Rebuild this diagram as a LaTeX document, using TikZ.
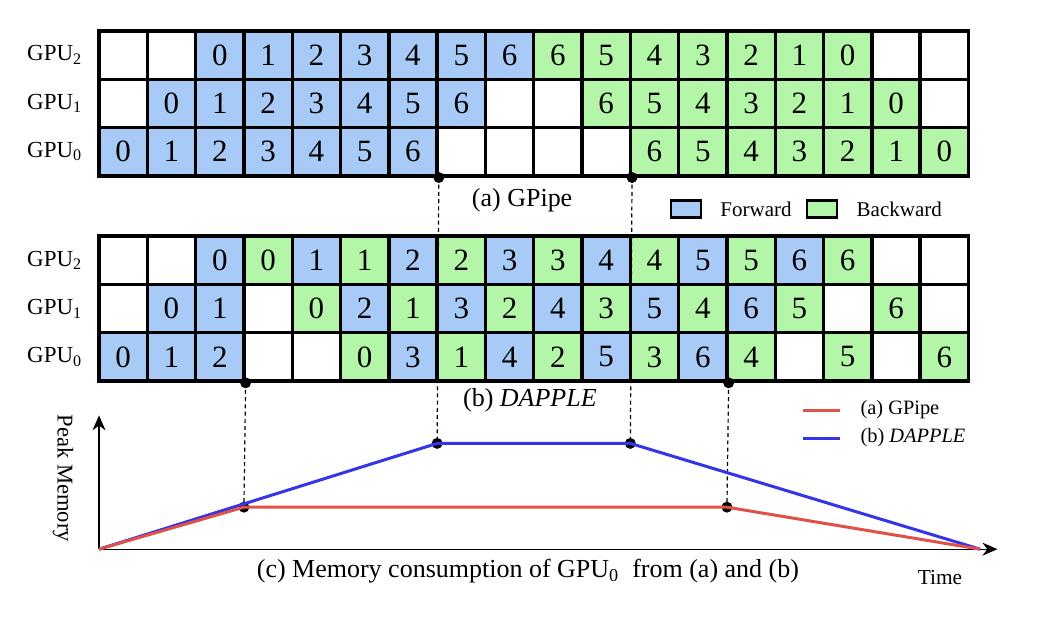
\documentclass[tikz,border=0pt]{standalone}
\usepackage{fontspec}
\setmainfont{Liberation Serif}
\usetikzlibrary{arrows.meta}
\definecolor{fwdblue}{RGB}{168,202,246}
\definecolor{bwdgreen}{RGB}{180,246,168}
\definecolor{gpipered}{RGB}{222,82,72}
\definecolor{dappleblue}{RGB}{52,52,232}

\begin{document}
\begin{tikzpicture}[x=0.849cm,y=0.849cm,
  cell/.style={draw,line width=1.7pt,minimum width=0.849cm,minimum height=0.849cm,inner sep=0pt,font=\fontsize{15.5}{15.5}\selectfont},
  fwd/.style={cell,fill=fwdblue},
  bwd/.style={cell,fill=bwdgreen},
  idle/.style={cell,fill=white},
  gpulab/.style={anchor=east,font=\fontsize{11.5}{11.5}\selectfont},
  caption/.style={font=\fontsize{13}{13}\selectfont},
  legtext/.style={anchor=west,font=\fontsize{10.5}{10.5}\selectfont},
  legbox/.style={draw,line width=1.3pt,minimum width=15pt,minimum height=8.5pt,inner sep=0pt},
  dot/.style={circle,fill=black,inner sep=0pt,minimum size=5.5pt},
  guide/.style={dash pattern=on 2pt off 1.6pt,line width=0.6pt},
  curve/.style={line width=1.5pt,line join=round}]
% Canvas
\useasboundingbox (-2.05,-1.39) rectangle (19.44,11.37);
% (a) GPipe schedule
\foreach \s/\d [count=\i from 0] in {idle/,idle/,fwd/0,fwd/1,fwd/2,fwd/3,fwd/4,fwd/5,fwd/6,bwd/6,bwd/5,bwd/4,bwd/3,bwd/2,bwd/1,bwd/0,idle/,idle/}
  \node[\s] (a2-\i) at (\i+0.5,10.23) {\d};
\foreach \s/\d [count=\i from 0] in {idle/,fwd/0,fwd/1,fwd/2,fwd/3,fwd/4,fwd/5,fwd/6,idle/,idle/,bwd/6,bwd/5,bwd/4,bwd/3,bwd/2,bwd/1,bwd/0,idle/}
  \node[\s] (a1-\i) at (\i+0.5,9.23) {\d};
\foreach \s/\d [count=\i from 0] in {fwd/0,fwd/1,fwd/2,fwd/3,fwd/4,fwd/5,fwd/6,idle/,idle/,idle/,idle/,bwd/6,bwd/5,bwd/4,bwd/3,bwd/2,bwd/1,bwd/0}
  \node[\s] (a0-\i) at (\i+0.5,8.23) {\d};
\node[gpulab] (la2) at (-0.2,10.23) {GPU\textsubscript{2}};
\node[gpulab] (la1) at (-0.2,9.23) {GPU\textsubscript{1}};
\node[gpulab] (la0) at (-0.2,8.23) {GPU\textsubscript{0}};
\node[caption] (capa) at (8.76,7.23) {(a) GPipe};
% Legend
\node[legbox,fill=fwdblue] (kfwd) at (12.15,7.04) {};
\node[legtext] (tfwd) at (12.72,7.04) {Forward};
\node[legbox,fill=bwdgreen] (kbwd) at (14.97,7.04) {};
\node[legtext] (tbwd) at (15.54,7.04) {Backward};
% (b) DAPPLE schedule
\foreach \s/\d [count=\i from 0] in {idle/,idle/,fwd/0,bwd/0,fwd/1,bwd/1,fwd/2,bwd/2,fwd/3,bwd/3,fwd/4,bwd/4,fwd/5,bwd/5,fwd/6,bwd/6,idle/,idle/}
  \node[\s] (b2-\i) at (\i+0.5,5.98) {\d};
\foreach \s/\d [count=\i from 0] in {idle/,fwd/0,fwd/1,idle/,bwd/0,fwd/2,bwd/1,fwd/3,bwd/2,fwd/4,bwd/3,fwd/5,bwd/4,fwd/6,bwd/5,idle/,bwd/6,idle/}
  \node[\s] (b1-\i) at (\i+0.5,4.98) {\d};
\foreach \s/\d [count=\i from 0] in {fwd/0,fwd/1,fwd/2,idle/,idle/,bwd/0,fwd/3,bwd/1,fwd/4,bwd/2,fwd/5,bwd/3,fwd/6,bwd/4,idle/,bwd/5,idle/,bwd/6}
  \node[\s] (b0-\i) at (\i+0.5,3.98) {\d};
\node[gpulab] (lb2) at (-0.2,5.98) {GPU\textsubscript{2}};
\node[gpulab] (lb1) at (-0.2,4.98) {GPU\textsubscript{1}};
\node[gpulab] (lb0) at (-0.2,3.98) {GPU\textsubscript{0}};
\node[caption] (capb) at (8.92,3.08) {(b) \textit{DAPPLE}};
% (c) memory chart
\coordinate (o) at (0,0);
\coordinate (ytop) at (0,2.77);
\coordinate (xend) at (18.6,0);
\coordinate (r1) at (3,0.87);
\coordinate (r2) at (13,0.87);
\coordinate (b1) at (7,2.19);
\coordinate (b2) at (11,2.19);
\coordinate (tend) at (18.24,0);
\draw[line width=0.6pt,-{Stealth[length=7.5pt,width=6.5pt]}] (o) -- (ytop);
\draw[line width=0.6pt,-{Stealth[length=7.5pt,width=6.5pt]}] (o) -- (xend);
% Guides from the schedules
\coordinate (ga1) at (b0-2.south east);
\coordinate (ga2) at (b0-12.south east);
\coordinate (gb1) at (a0-6.south east);
\coordinate (gb2) at (a0-10.south east);
\draw[guide] (ga1) -- (r1);
\draw[guide] (ga2) -- (r2);
\draw[guide] (gb1) -- (b1);
\draw[guide] (gb2) -- (b2);
\foreach \p in {ga1,ga2,gb1,gb2,r1,r2,b1,b2}
  \node[dot] (d-\p) at (\p) {};
\draw[curve,dappleblue] (o) -- (b1) -- (b2) -- (tend);
\draw[curve,gpipered] (o) -- (r1) -- (r2) -- (tend);
\node[font=\fontsize{11.3}{11.3}\selectfont,rotate=-90] (peak) at (-0.745,1.47) {Peak Memory};
\node[caption] (capc) at (8.88,-0.45) {(c) Memory consumption of GPU\textsubscript{0}\ \ from (a) and (b)};
\node[font=\fontsize{10.7}{10.7}\selectfont] (time) at (17.41,-0.58) {Time};
% Chart legend
\coordinate (kr0) at (14.58,2.88);
\coordinate (kr1) at (15.34,2.88);
\coordinate (kb0) at (14.58,2.30);
\coordinate (kb1) at (15.34,2.30);
\draw[curve,gpipered] (kr0) -- (kr1);
\draw[curve,dappleblue] (kb0) -- (kb1);
\node[legtext,font=\fontsize{10.2}{10.2}\selectfont] (tgp) at (15.62,2.88) {(a) GPipe};
\node[legtext,font=\fontsize{10.2}{10.2}\selectfont] (tdp) at (15.62,2.30) {(b) \textit{DAPPLE}};
\end{tikzpicture}
\end{document}
